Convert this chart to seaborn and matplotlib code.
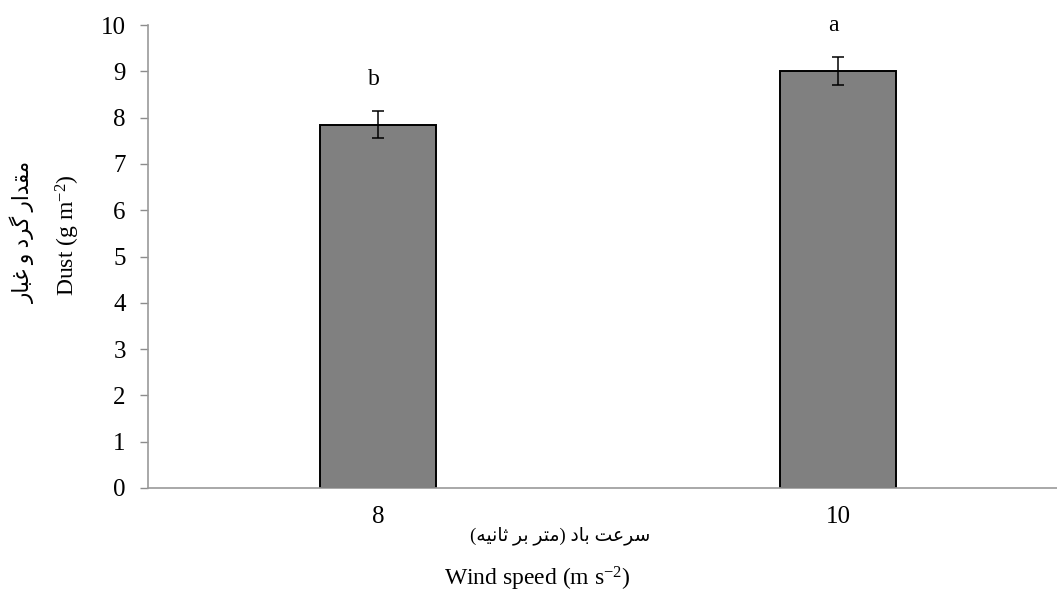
import matplotlib
matplotlib.use("Agg")
import matplotlib.pyplot as plt
import seaborn as sns
import pandas as pd

# ---- data ----
categories = ["8", "10"]
dust_values = [7.85, 9.0]
dust_errors = [0.3, 0.3]
group_letters = ["b", "a"]
y_ticks = [0, 1, 2, 3, 4, 5, 6, 7, 8, 9, 10]

# Persian labels, written in visual (shaped, left-to-right) order
y_label_fa = "\ufead\ufe8e\ufe92\ufecf \ufeed \ufea9\ufeae\ufb94 \ufead\ufe8d\ufeaa\ufed8\ufee3"
y_label_en = "Dust (g m$^{-2}$)"
x_label_fa = "(\ufeea\ufef4\ufee7\ufe8e\ufe9b \ufeae\ufe91 \ufeae\ufe98\ufee3) \ufea9\ufe8e\ufe91 \ufe96\ufecb\ufeae\ufeb3"
x_label_en = "Wind speed (m s$^{-2}$)"

sns.set_theme(style="white")
plt.rcParams["font.family"] = ["Liberation Serif", "DejaVu Sans"]
plt.rcParams["mathtext.default"] = "regular"

df = pd.DataFrame({"speed": categories, "dust": dust_values})

W, H = 1057, 599
fig = plt.figure(figsize=(W / 100, H / 100), dpi=100)
ax = fig.add_axes([148 / W, (H - 488) / H, (W - 148) / W, (488 - 25) / H])

sns.barplot(data=df, x="speed", y="dust", order=categories, color="#808080",
            saturation=1, width=0.252, edgecolor="black", linewidth=1.4,
            errorbar=None, ax=ax)
ax.errorbar(range(len(categories)), dust_values, yerr=dust_errors, fmt="none",
            ecolor="black", elinewidth=1.1, capsize=4.3, capthick=1.1)

for i, (v, e, l) in enumerate(zip(dust_values, dust_errors, group_letters)):
    ax.text(i - 0.01, v + e + 0.68, l, ha="center", va="center", fontsize=17,
            family="Liberation Serif", color="black")

ax.set_xlim(-0.5, 1.476)
ax.set_ylim(0, 10)
ax.set_yticks(y_ticks)
ax.set_xlabel("")
ax.set_ylabel("")
ax.tick_params(axis="y", direction="out", length=6, width=1, color="#8c8c8c",
               labelsize=18, labelcolor="black", pad=10, left=True)
ax.tick_params(axis="x", length=0, labelsize=18, labelcolor="black", pad=13)
for s in ["top", "right"]:
    ax.spines[s].set_visible(False)
for s in ["left", "bottom"]:
    ax.spines[s].set_color("#9a9a9a")
    ax.spines[s].set_linewidth(1.2)
ax.grid(False)

fig.text(23 / W, 1 - 232 / H, y_label_fa, rotation=90, ha="center", va="center",
         fontsize=15.5, color="black", family=["Liberation Serif", "DejaVu Sans"])
fig.text(68 / W, 1 - 235 / H, y_label_en, rotation=90, ha="center", va="center",
         fontsize=17, color="black")
fig.text(560 / W, 1 - 536 / H, x_label_fa, ha="center", va="center",
         fontsize=13.5, color="black", family=["Liberation Serif", "DejaVu Sans"])
fig.text(537 / W, 1 - 579 / H, x_label_en, ha="center", va="center",
         fontsize=17, color="black")

fig.savefig("out.png", dpi=100)
